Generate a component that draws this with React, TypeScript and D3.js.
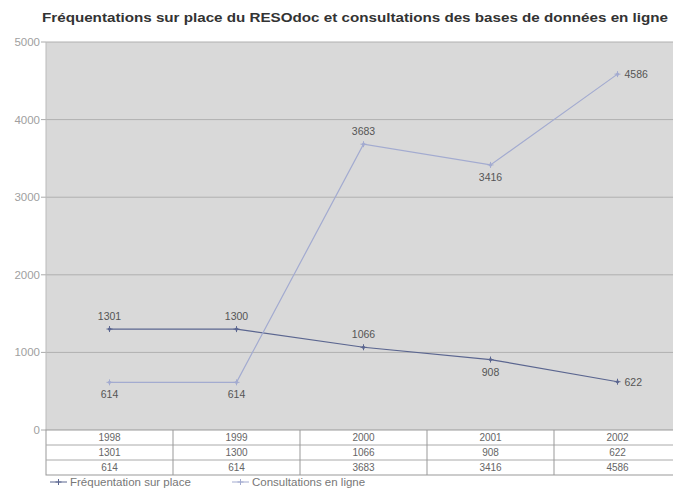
import React from "react";
import * as d3 from "d3";

// chart data
const years = ["1998", "1999", "2000", "2001", "2002"];
const frequentation = [1301, 1300, 1066, 908, 622];
const consultations = [614, 614, 3683, 3416, 4586];
const yTicks = [0, 1000, 2000, 3000, 4000, 5000];
const seriesNames = ["Fréquentation sur place", "Consultations en ligne"];

// where each data label sits relative to its point
const freqLabelPos = ["top", "top", "top", "bottom", "right"];
const consLabelPos = ["bottom", "bottom", "top", "bottom", "right"];

const width = 673;
const height = 488;
const plotLeft = 46;
const plotRight = 681;
const plotTop = 42;
const plotBottom = 430;
const rowH = 15;

const font = "'Liberation Sans', Arial, sans-serif";
const colors = ["#5b6690", "#a3abd0"];

export default function App() {
  const x = d3.scaleBand().domain(years).range([plotLeft, plotRight]);
  const y = d3.scaleLinear().domain([0, 5000]).range([plotBottom, plotTop]);
  const cx = (d: string) => (x(d) ?? 0) + x.bandwidth() / 2;

  const line = d3
    .line<number>()
    .x((_, i) => cx(years[i]))
    .y((d) => y(d));

  const series = [
    { values: frequentation, pos: freqLabelPos, color: colors[0] },
    { values: consultations, pos: consLabelPos, color: colors[1] },
  ];

  const labelXY = (i: number, v: number, pos: string) => {
    const px = cx(years[i]);
    const py = y(v);
    if (pos === "top") return { lx: px, ly: py - 9, anchor: "middle" };
    if (pos === "bottom") return { lx: px, ly: py + 16, anchor: "middle" };
    return { lx: px + 7, ly: py + 4, anchor: "start" };
  };

  const tableRows = [years, frequentation.map(String), consultations.map(String)];

  return (
    <svg
      width={width}
      height={height}
      style={{ position: "absolute", left: 0, top: 0, background: "#fff" }}
      fontFamily={font}
    >
      <text
        x={42}
        y={22}
        fontSize={12.5}
        fontWeight="bold"
        fill="#333"
        textLength={626}
        lengthAdjust="spacingAndGlyphs"
      >
        Fréquentations sur place du RESOdoc et consultations des bases de données en ligne
      </text>

      <rect
        x={plotLeft}
        y={plotTop}
        width={plotRight - plotLeft}
        height={plotBottom - plotTop}
        fill="#d9d9d9"
      />
      {yTicks.map((t) => (
        <g key={t}>
          {t > 0 && (
            <line x1={plotLeft} x2={plotRight} y1={y(t)} y2={y(t)} stroke="#b0b0b0" />
          )}
          <line x1={plotLeft - 5} x2={plotLeft} y1={y(t)} y2={y(t)} stroke="#aaa" />
          <text x={plotLeft - 6} y={y(t) + 4} textAnchor="end" fontSize={11.5} fill="#a0a0a0">
            {t}
          </text>
        </g>
      ))}
      <line x1={plotLeft} x2={plotLeft} y1={plotTop} y2={plotBottom} stroke="#bbb" />

      {series.map((s, si) => (
        <g key={si}>
          <path d={line(s.values) ?? ""} fill="none" stroke={s.color} strokeWidth={1.2} />
          {s.values.map((v, i) => (
            <g key={i}>
              <path
                d={`M${cx(years[i]) - 3},${y(v)}h6M${cx(years[i])},${y(v) - 3}v6`}
                stroke={s.color}
                strokeWidth={1}
              />
              <circle cx={cx(years[i])} cy={y(v)} r={1.6} fill={s.color} />
            </g>
          ))}
        </g>
      ))}

      {series.map((s, si) =>
        s.values.map((v, i) => {
          const { lx, ly, anchor } = labelXY(i, v, s.pos[i]);
          return (
            <text
              key={`${si}-${i}`}
              x={lx}
              y={ly}
              textAnchor={anchor as any}
              fontSize={10.5}
              fill="#555"
            >
              {v}
            </text>
          );
        })
      )}

      {/* data table */}
      <rect
        x={plotLeft}
        y={plotBottom}
        width={plotRight - plotLeft}
        height={rowH * 3}
        fill="#fff"
        stroke="#999"
      />
      {[1, 2].map((r) => (
        <line
          key={r}
          x1={plotLeft}
          x2={plotRight}
          y1={plotBottom + r * rowH}
          y2={plotBottom + r * rowH}
          stroke="#aaa"
        />
      ))}
      {years.slice(1).map((yr) => (
        <line
          key={yr}
          x1={x(yr)}
          x2={x(yr)}
          y1={plotBottom}
          y2={plotBottom + rowH * 3}
          stroke="#999"
        />
      ))}
      {tableRows.map((row, r) =>
        row.map((val, i) => (
          <text
            key={`${r}-${i}`}
            x={cx(years[i])}
            y={plotBottom + r * rowH + 11}
            textAnchor="middle"
            fontSize={10}
            fill="#666"
          >
            {val}
          </text>
        ))
      )}

      {/* legend */}
      {seriesNames.map((name, i) => {
        const lx = i === 0 ? 50 : 232;
        const ly = 482;
        return (
          <g key={name}>
            <line x1={lx} x2={lx + 17} y1={ly} y2={ly} stroke={colors[i]} />
            <path d={`M${lx + 5.5},${ly}h6M${lx + 8.5},${ly - 3}v6`} stroke={colors[i]} />
            <text x={lx + 20} y={ly + 4} fontSize={11.5} fill="#777">
              {name}
            </text>
          </g>
        );
      })}
    </svg>
  );
}
